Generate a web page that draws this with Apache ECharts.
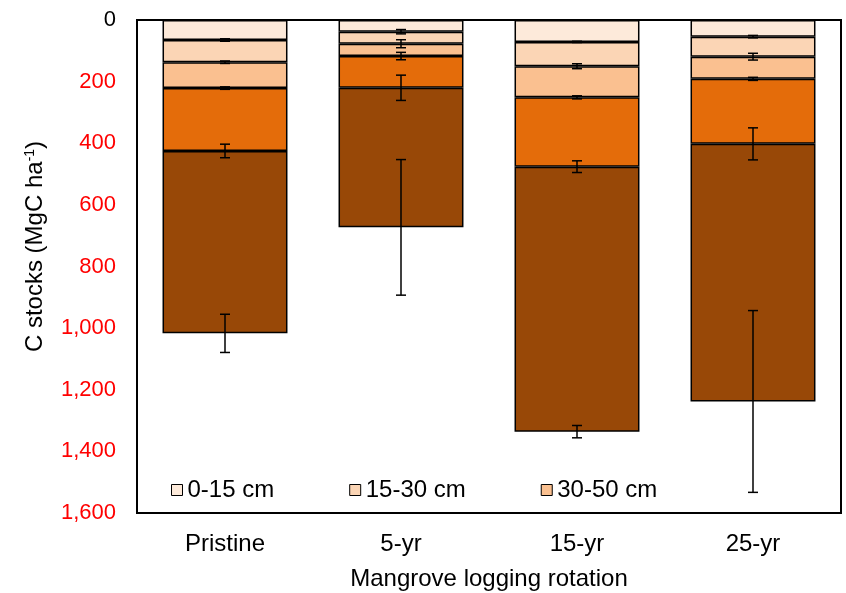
<!DOCTYPE html>
<html>
<head>
<meta charset="utf-8">
<script src="https://cdn.jsdelivr.net/npm/echarts@6/dist/echarts.min.js"></script>
<style>
html,body{margin:0;padding:0;background:#fff;}
#chart{width:846px;height:593px;}
</style>
</head>
<body>
<div id="chart"></div>
<script>
// Categories (x axis)
var categories = ['Pristine', '5-yr', '15-yr', '25-yr'];
// Layer names
var layerNames = ['0-15 cm', '15-30 cm', '30-50 cm', '50-100 cm', '>100 cm'];
// C stocks per depth layer (MgC ha-1)
var layer0_15 = [65, 38, 71, 54];
var layer15_30 = [72, 39, 79, 65];
var layer30_50 = [84, 40, 101, 72];
var layer50_100 = [204, 103, 225, 211];
var layer100plus = [592, 453, 860, 836];
// Error (± SE) at the cumulative depth of each layer
var err0_15 = [4, 7, 2, 4];
var err15_30 = [4, 13, 8, 11];
var err30_50 = [4, 12, 5, 5];
var err50_100 = [22, 41, 19, 52];
var err100plus = [62, 220, 20, 295];
// Y axis ticks
var yMin = 0, yMax = 1600, yStep = 200;

var layers = [layer0_15, layer15_30, layer30_50, layer50_100, layer100plus];
var errs = [err0_15, err15_30, err30_50, err50_100, err100plus];
var colors = ['#FDEADA', '#FBD5B5', '#FAC090', '#E46C0A', '#984807'];

var FONT = 'Liberation Sans, Arial, sans-serif';

var series = [];
layers.forEach(function (arr, li) {
  series.push({
    name: layerNames[li],
    type: 'bar',
    stack: 'depth',
    barWidth: '71%',
    data: arr,
    itemStyle: { color: colors[li], borderColor: '#000', borderWidth: 1.5 },
    emphasis: { disabled: true },
    z: 2
  });
});

// cumulative totals and error data
var errData = [];
for (var c = 0; c < categories.length; c++) {
  var cum = 0;
  for (var li = 0; li < layers.length; li++) {
    cum += layers[li][c];
    errData.push([c, cum, errs[li][c]]);
  }
}

series.push({
  name: 'err',
  type: 'custom',
  data: errData,
  encode: { x: 0, y: 1 },
  z: 10,
  silent: true,
  renderItem: function (params, api) {
    var x = api.value(0), y = api.value(1), e = api.value(2);
    var p1 = api.coord([x, y - e]);
    var p2 = api.coord([x, y + e]);
    var hw = 5;
    var st = { stroke: '#000', lineWidth: 1.5 };
    return {
      type: 'group',
      children: [
        { type: 'line', shape: { x1: p1[0], y1: p1[1], x2: p2[0], y2: p2[1] }, style: st },
        { type: 'line', shape: { x1: p1[0] - hw, y1: p1[1], x2: p1[0] + hw, y2: p1[1] }, style: st },
        { type: 'line', shape: { x1: p2[0] - hw, y1: p2[1], x2: p2[0] + hw, y2: p2[1] }, style: st }
      ]
    };
  }
});

var chart = echarts.init(document.getElementById('chart'), null, { renderer: 'canvas' });
chart.setOption({
  animation: false,
  backgroundColor: '#fff',
  textStyle: { fontFamily: FONT },
  grid: {
    left: 137, right: 5, top: 20, bottom: 80,
    outerBoundsMode: 'none',
    containLabel: false,
    show: true, borderColor: '#000', borderWidth: 2, backgroundColor: 'transparent'
  },
  legend: {
    data: layerNames.slice(0, 3),
    left: 166, top: 473,
    itemWidth: 11, itemHeight: 11, itemGap: 75,
    icon: 'rect',
    itemStyle: { borderColor: '#000', borderWidth: 1 },
    textStyle: { fontSize: 24, color: '#000', fontFamily: FONT },
    selectedMode: false
  },
  xAxis: {
    type: 'category',
    data: categories,
    axisTick: { show: false },
    axisLine: { lineStyle: { color: '#000', width: 2 } },
    axisLabel: { fontSize: 24, color: '#000', margin: 19, fontFamily: FONT },
    name: 'Mangrove logging rotation',
    nameLocation: 'middle',
    nameGap: 54,
    nameTextStyle: { fontSize: 24, color: '#000', fontFamily: FONT }
  },
  yAxis: {
    type: 'value',
    inverse: true,
    min: yMin, max: yMax, interval: yStep,
    splitLine: { show: false },
    axisTick: { show: false },
    axisLine: { show: true, lineStyle: { color: '#000', width: 2 } },
    axisLabel: {
      fontSize: 22, margin: 21, fontFamily: FONT,
      color: function (v) { return Number(v) === 0 ? '#000' : '#FF0000'; },
      formatter: function (v) { return v.toLocaleString('en-US'); }
    },
    name: 'C stocks (MgC ha{sup|-1})',
    nameLocation: 'middle',
    nameGap: 90,
    nameRotate: 90,
    nameTextStyle: {
      fontSize: 24, color: '#000', fontFamily: FONT,
      padding: [0, 0, 0, 40],
      rich: { sup: { fontSize: 14, verticalAlign: 'top', padding: [0, 0, 9, 0], color: '#000', fontFamily: FONT } }
    }
  },
  series: series
});
</script>
</body>
</html>
